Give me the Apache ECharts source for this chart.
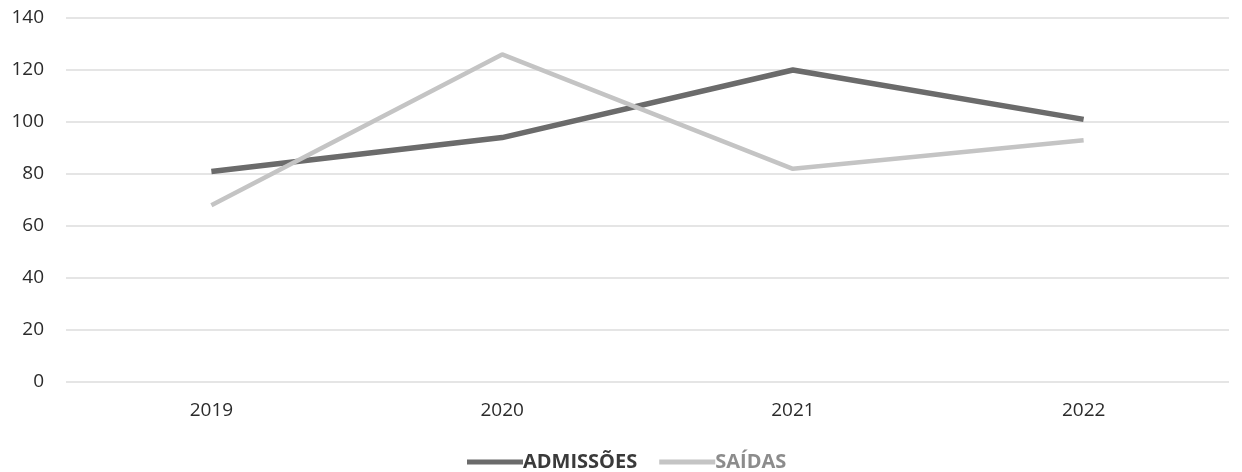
<!DOCTYPE html>
<html>
<head>
<meta charset="utf-8">
<script src="https://cdn.jsdelivr.net/npm/echarts@6/dist/echarts.min.js"></script>
<style>
  html, body { margin: 0; padding: 0; background: #fff; }
  #chart { width: 1242px; height: 472px; }
</style>
</head>
<body>
<div id="chart"></div>
<script>
// Yearly admissions and departures
const years = ['2019', '2020', '2021', '2022'];
const admissoes = [81, 94, 120, 101];
const saidas = [68, 126, 82, 93];
const yTicks = { min: 0, max: 140, interval: 20 };

const font = '"Open Sans", "Liberation Sans", sans-serif';

const chart = echarts.init(document.getElementById('chart'), null, { renderer: 'canvas' });
chart.setOption({
  animation: false,
  backgroundColor: '#ffffff',
  grid: { left: 66, right: 13, top: 18, bottom: 90 },
  xAxis: {
    type: 'category',
    data: years,
    boundaryGap: true,
    axisLine: { show: false },
    axisTick: { show: false },
    axisLabel: { color: '#2b2b2b', fontFamily: font, fontSize: 19, margin: 19 }
  },
  yAxis: {
    type: 'value',
    min: yTicks.min,
    max: yTicks.max,
    interval: yTicks.interval,
    axisLine: { show: false },
    axisTick: { show: false },
    axisLabel: { color: '#2b2b2b', fontFamily: font, fontSize: 19, margin: 22 },
    splitLine: { lineStyle: { color: '#dcdcdc', width: 1.5 } }
  },
  legend: {
    top: 447,
    left: 462,
    icon: 'rect',
    itemWidth: 56,
    itemHeight: 5,
    itemGap: 22,
    textStyle: { fontFamily: font, fontSize: 20, fontWeight: 'bold', padding: [0, 0, 0, -5] },
    data: [
      { name: 'ADMISSÕES', textStyle: { color: '#3a3a3a' } },
      { name: 'SAÍDAS', textStyle: { color: '#8c8c8c' } }
    ]
  },
  series: [
    {
      name: 'ADMISSÕES',
      type: 'line',
      data: admissoes,
      symbol: 'none',
      lineStyle: { color: '#6b6b6b', width: 5.5 },
      itemStyle: { color: '#6b6b6b' }
    },
    {
      name: 'SAÍDAS',
      type: 'line',
      data: saidas,
      symbol: 'none',
      lineStyle: { color: '#c4c4c4', width: 4.5 },
      itemStyle: { color: '#c4c4c4' }
    }
  ]
});
</script>
</body>
</html>
